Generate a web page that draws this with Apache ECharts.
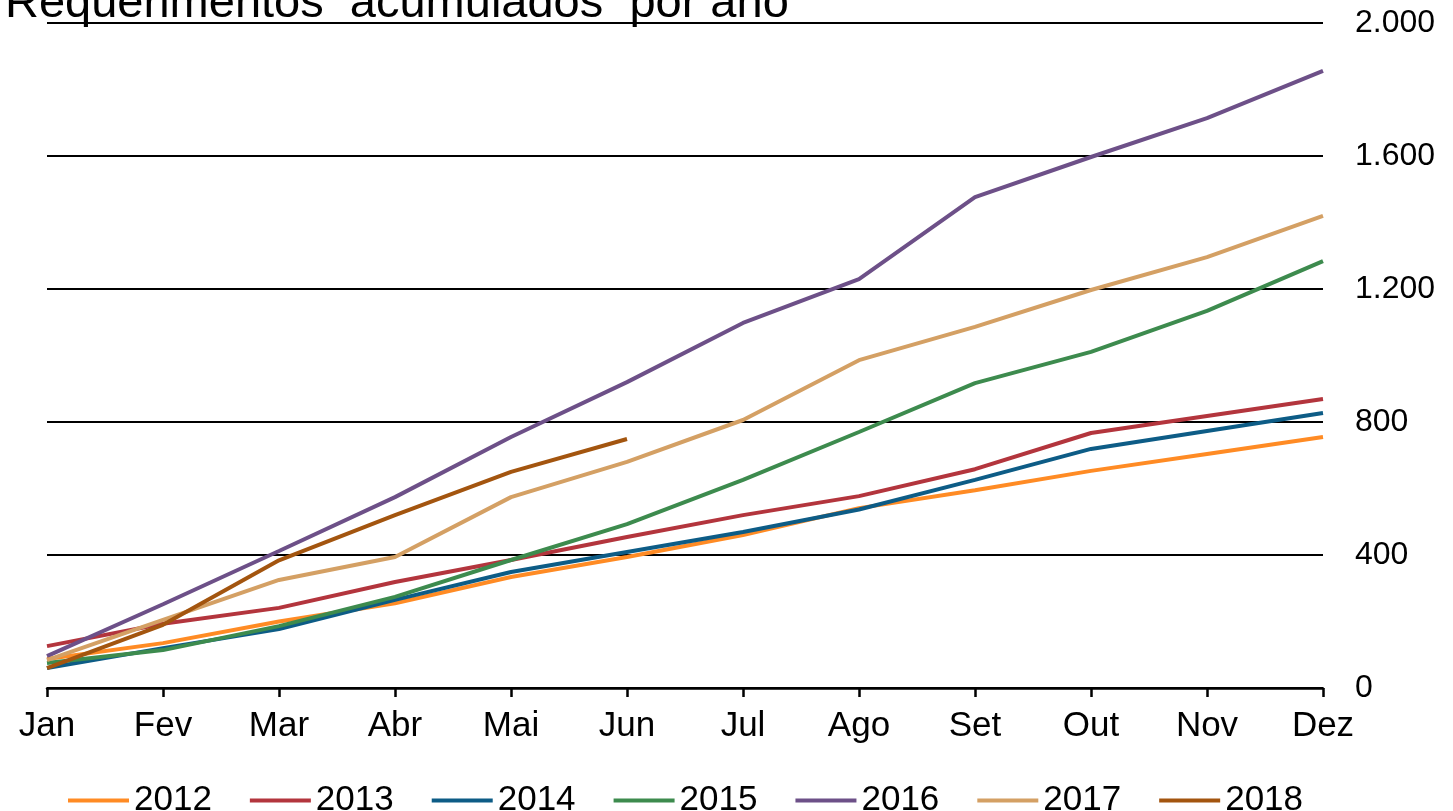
<!DOCTYPE html>
<html>
<head>
<meta charset="utf-8">
<script src="https://cdn.jsdelivr.net/npm/echarts@6/dist/echarts.min.js"></script>
<style>
  html, body { margin: 0; padding: 0; background: #fff; }
  #chart { width: 1453px; height: 811px; }
</style>
</head>
<body>
<div id="chart"></div>
<script>
// meses e valores acumulados por ano
var meses = ['Jan', 'Fev', 'Mar', 'Abr', 'Mai', 'Jun', 'Jul', 'Ago', 'Set', 'Out', 'Nov', 'Dez'];
var anos = ['2012', '2013', '2014', '2015', '2016', '2017', '2018'];
var v2012 = [87, 135, 200, 255, 334, 394, 460, 541, 595, 653, 704, 755];
var v2013 = [126, 193, 241, 319, 385, 454, 520, 577, 658, 767, 818, 869];
var v2014 = [60, 120, 177, 265, 349, 409, 469, 537, 626, 719, 773, 827];
var v2015 = [75, 114, 186, 274, 385, 493, 626, 770, 917, 1011, 1134, 1284];
var v2016 = [96, 252, 412, 574, 755, 920, 1098, 1230, 1476, 1597, 1714, 1856];
var v2017 = [84, 205, 325, 394, 574, 680, 806, 986, 1086, 1197, 1296, 1420];
var v2018 = [60, 190, 384, 520, 650, 749];
var cores = ['#FF8B24', '#B3353D', '#0D5C86', '#3D8B4E', '#6D5088', '#D4A064', '#A3550F'];

var valores = [v2012, v2013, v2014, v2015, v2016, v2017, v2018];

var chart = echarts.init(document.getElementById('chart'));

var series = anos.map(function (a, i) {
    return {
        name: a,
        type: 'line',
        data: valores[i],
        symbol: 'none',
        lineStyle: { width: 4, color: cores[i] },
        itemStyle: { color: cores[i] }
    };
});

chart.setOption({
    animation: false,
    color: cores,
    textStyle: { fontFamily: 'Liberation Sans, Arial, sans-serif' },
    title: {
        text: 'Requerimentos  acumulados  por ano',
        left: 0,
        top: -24,
        textStyle: { fontSize: 47, fontWeight: 'normal', color: '#000', fontFamily: 'Liberation Sans, Arial, sans-serif' }
    },
    grid: { left: 47, right: 130, top: 23, bottom: 123 },
    legend: {
        data: anos,
        left: 63,
        top: 778,
        icon: 'rect',
        itemWidth: 61,
        itemHeight: 4,
        itemGap: 38,
        textStyle: { fontSize: 35, color: '#000' }
    },
    xAxis: {
        type: 'category',
        data: meses,
        boundaryGap: false,
        axisLine: { lineStyle: { color: '#000', width: 2.5 } },
        axisTick: { show: true, alignWithLabel: true, length: 9, lineStyle: { color: '#000', width: 2.5 } },
        axisLabel: { fontSize: 35, color: '#000', margin: 21 },
        splitLine: { show: false }
    },
    yAxis: {
        type: 'value',
        position: 'right',
        min: 0,
        max: 2000,
        interval: 400,
        axisLine: { show: false },
        axisTick: { show: false },
        axisLabel: {
            fontSize: 32,
            color: '#000',
            margin: 32,
            formatter: function (v) {
                return v.toString().replace(/\B(?=(\d{3})+(?!\d))/g, '.');
            }
        },
        splitLine: { lineStyle: { color: '#000', width: 2 } }
    },
    series: series
});
</script>
</body>
</html>
